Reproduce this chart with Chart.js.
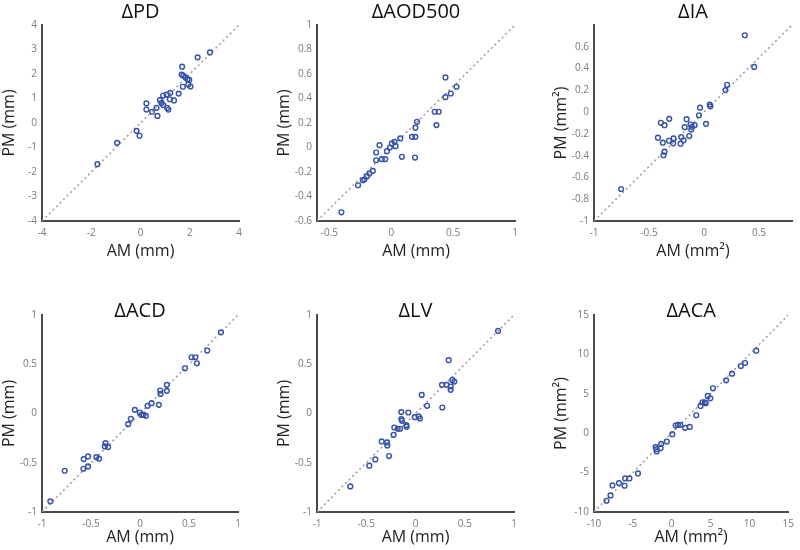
<!DOCTYPE html>
<html>
<head>
<meta charset="utf-8">
<script src="https://cdn.jsdelivr.net/npm/chart.js@4"></script>
<style>
  body { margin: 0; background: #fff; }
  #wrap { position: relative; width: 800px; height: 550px; }
  #wrap canvas { position: absolute; }
</style>
</head>
<body>
<div id="wrap">
  <canvas id="c1"></canvas>
  <canvas id="c2"></canvas>
  <canvas id="c3"></canvas>
  <canvas id="c4"></canvas>
  <canvas id="c5"></canvas>
  <canvas id="c6"></canvas>
</div>
<script>
// ΔPD
const pdAM = [-1.75, -0.95, -0.16, -0.04, 0.24, 0.24, 0.47, 0.65, 0.69, 0.79, 0.85, 0.92, 0.92, 1.06, 1.08, 1.13,
  1.19, 1.21, 1.36, 1.55, 1.72, 1.67, 1.69, 1.74, 1.83, 1.91, 1.98, 1.94, 2.03, 2.32, 2.82];
const pdPM = [-1.68, -0.81, -0.32, -0.52, 0.80, 0.55, 0.46, 0.62, 0.29, 0.93, 0.82, 0.73, 1.12, 1.16, 0.62, 0.55,
  0.97, 1.23, 0.92, 1.20, 1.48, 1.98, 2.30, 1.93, 1.86, 1.79, 1.76, 1.57, 1.49, 2.68, 2.88];

// ΔAOD500
const aodAM = [-0.403, -0.268, -0.230, -0.216, -0.195, -0.176, -0.149, -0.122, -0.122, -0.095, -0.076, -0.049, -0.035,
  -0.011, 0.005, 0.027, 0.035, 0.073, 0.086, 0.168, 0.195, 0.192, 0.195, 0.208, 0.351, 0.365, 0.384, 0.438, 0.438, 0.481, 0.527];
const aodPM = [-0.529, -0.308, -0.267, -0.259, -0.234, -0.213, -0.191, -0.041, -0.104, 0.019, -0.095, -0.095, -0.030,
  0.0, 0.033, 0.046, 0.011, 0.074, -0.076, 0.087, 0.087, -0.082, 0.161, 0.210, 0.292, 0.183, 0.292, 0.411, 0.572, 0.441, 0.496];

// ΔIA
const iaAM = [-0.754, -0.419, -0.392, -0.374, -0.368, -0.359, -0.359, -0.319, -0.316, -0.280, -0.277, -0.213, -0.207,
  -0.185, -0.176, -0.158, -0.134, -0.122, -0.116, -0.109, -0.085, -0.046, -0.036, 0.018, 0.052, 0.058, 0.195, 0.210, 0.371, 0.456];
const iaPM = [-0.706, -0.235, -0.098, -0.281, -0.396, -0.120, -0.363, -0.263, -0.062, -0.287, -0.241, -0.290, -0.229,
  -0.259, -0.138, -0.065, -0.220, -0.114, -0.159, -0.135, -0.120, -0.029, 0.041, -0.108, 0.069, 0.053, 0.202, 0.251, 0.706, 0.415];

// ΔACD
const acdAM = [-0.915, -0.768, -0.577, -0.574, -0.530, -0.530, -0.445, -0.417, -0.359, -0.352, -0.325, -0.121, -0.094,
  -0.053, -0.002, 0.015, 0.036, 0.060, 0.077, 0.118, 0.192, 0.206, 0.209, 0.274, 0.274, 0.458, 0.526, 0.564, 0.581, 0.686, 0.826];
const acdPM = [-0.892, -0.581, -0.561, -0.463, -0.537, -0.436, -0.443, -0.459, -0.334, -0.301, -0.341, -0.108, -0.054,
  0.037, 0.010, -0.014, -0.010, -0.024, 0.078, 0.105, 0.088, 0.233, 0.199, 0.291, 0.230, 0.459, 0.571, 0.571, 0.510, 0.639, 0.824];

// ΔLV
const lvAM = [-0.662, -0.469, -0.408, -0.343, -0.289, -0.286, -0.269, -0.222, -0.215, -0.181, -0.157, -0.144, -0.144,
  -0.137, -0.093, -0.090, -0.073, -0.008, 0.032, 0.046, 0.063, 0.117, 0.269, 0.272, 0.316, 0.337, 0.357, 0.357, 0.374, 0.394, 0.838];
const lvPM = [-0.740, -0.530, -0.466, -0.284, -0.294, -0.324, -0.432, -0.216, -0.142, -0.155, -0.155, 0.014, -0.057,
  -0.074, -0.118, -0.135, 0.010, -0.037, -0.030, -0.051, 0.189, 0.078, 0.291, 0.061, 0.291, 0.541, 0.274, 0.240, 0.341, 0.324, 0.838];

// ΔACA
const acaAM = [-8.39, -7.88, -7.63, -6.79, -6.07, -5.99, -5.44, -4.34, -2.07, -1.94, -1.94, -1.43, -1.35, -0.63, 0.08,
  0.51, 0.80, 1.10, 1.73, 2.32, 3.16, 3.71, 3.96, 4.26, 4.38, 4.64, 4.97, 5.31, 7.00, 7.76, 8.90, 9.44, 10.88];
const acaPM = [-8.57, -7.90, -6.63, -6.33, -6.67, -5.74, -5.74, -5.11, -1.77, -2.03, -2.32, -1.90, -1.35, -1.06, -0.13,
  0.97, 1.06, 1.06, 0.68, 0.80, 2.28, 3.46, 3.93, 3.93, 3.80, 4.73, 4.43, 5.70, 6.71, 7.56, 8.53, 8.91, 10.47];

// tick labels
const pdXTicks = [-4, -2, 0, 2, 4];
const pdYTicks = [-4, -3, -2, -1, 0, 1, 2, 3, 4];
const aodXTicks = [-0.5, 0, 0.5, 1];
const aodYTicks = [-0.6, -0.4, -0.2, 0, 0.2, 0.4, 0.6, 0.8, 1];
const iaXTicks = [-1, -0.5, 0, 0.5];
const iaYTicks = [-1, -0.8, -0.6, -0.4, -0.2, 0, 0.2, 0.4, 0.6];
const halfTicks = [-1, -0.5, 0, 0.5, 1];
const acaTicks = [-10, -5, 0, 5, 10, 15];

const dotColor = '#3452a8';
const font = "'Open Sans', 'DejaVu Sans', sans-serif";

function makePanel(id, o) {
  const cv = document.getElementById(id);
  cv.width = o.w;
  cv.height = o.h;
  cv.style.left = o.left + 'px';
  cv.style.top = o.top + 'px';

  const pts = o.am.map((x, i) => ({x: x, y: o.pm[i]}));

  const axis = (ticks, min, max, title, isX) => ({
    type: 'linear',
    min: min,
    max: max,
    afterBuildTicks: (s) => { s.ticks = ticks.map(v => ({value: v})); },
    afterFit: (s) => { if (isX) s.height = o.xh; else s.width = 42; },
    grid: {display: false, drawTicks: false},
    border: {display: true, color: '#4a4a4a', width: 2},
    ticks: {
      color: '#7a7a7a',
      font: {family: font, size: 10},
      padding: isX ? 6 : 5,
      maxRotation: 0,
      callback: (v) => String(+v.toFixed(2))
    },
    title: {
      display: true,
      text: title,
      color: '#222',
      font: {family: font, size: 16},
      padding: 0
    }
  });

  new Chart(cv, {
    type: 'scatter',
    data: {
      datasets: [
        {
          data: pts,
          pointStyle: 'circle',
          pointRadius: 2.4,
          pointBorderWidth: 1.4,
          pointBorderColor: dotColor,
          pointBackgroundColor: 'rgba(255,255,255,0)',
          showLine: false
        },
        {
          data: [{x: o.lineMin, y: o.lineMin}, {x: o.lineMax, y: o.lineMax}],
          showLine: true,
          borderColor: '#9a9a9a',
          borderWidth: 1.5,
          borderDash: [2, 3],
          pointRadius: 0
        }
      ]
    },
    options: {
      responsive: false,
      animation: false,
      layout: {padding: {left: 0, right: o.padR, top: 0, bottom: 0}},
      plugins: {
        legend: {display: false},
        tooltip: {enabled: false},
        title: {
          display: true,
          text: o.title,
          fullSize: false,
          color: '#111',
          font: {family: font, size: 20, weight: 'normal'},
          padding: o.titlePad
        }
      },
      scales: {
        x: axis(o.xTicks, o.xMin, o.xMax, o.xTitle, true),
        y: axis(o.yTicks, o.yMin, o.yMax, o.yTitle, false)
      }
    }
  });
}

const topPad = {top: 0, bottom: 1};
const botPad = {top: 9, bottom: -8};

makePanel('c1', {left: 0, top: 0, w: 259, h: 261, padR: 20, xh: 40, titlePad: topPad, title: 'ΔPD',
  am: pdAM, pm: pdPM, xTicks: pdXTicks, yTicks: pdYTicks, xMin: -4, xMax: 4, yMin: -4, yMax: 4,
  lineMin: -4, lineMax: 4, xTitle: 'AM (mm)', yTitle: 'PM (mm)'});
makePanel('c2', {left: 275, top: 0, w: 260, h: 261, padR: 20, xh: 40, titlePad: topPad, title: 'ΔAOD500',
  am: aodAM, pm: aodPM, xTicks: aodXTicks, yTicks: aodYTicks, xMin: -0.6, xMax: 1, yMin: -0.6, yMax: 1,
  lineMin: -0.6, lineMax: 1, xTitle: 'AM (mm)', yTitle: 'PM (mm)'});
makePanel('c3', {left: 552, top: 0, w: 248, h: 261, padR: 8, xh: 40, titlePad: topPad, title: 'ΔIA',
  am: iaAM, pm: iaPM, xTicks: iaXTicks, yTicks: iaYTicks, xMin: -1, xMax: 0.8, yMin: -1, yMax: 0.8,
  lineMin: -1, lineMax: 0.8, xTitle: 'AM (mm²)', yTitle: 'PM (mm²)'});
makePanel('c4', {left: 0, top: 290, w: 258, h: 257, padR: 20, xh: 35, titlePad: botPad, title: 'ΔACD',
  am: acdAM, pm: acdPM, xTicks: halfTicks, yTicks: halfTicks, xMin: -1, xMax: 1, yMin: -1, yMax: 1,
  lineMin: -1, lineMax: 1, xTitle: 'AM (mm)', yTitle: 'PM (mm)'});
makePanel('c5', {left: 275, top: 290, w: 259, h: 257, padR: 20, xh: 35, titlePad: botPad, title: 'ΔLV',
  am: lvAM, pm: lvPM, xTicks: halfTicks, yTicks: halfTicks, xMin: -1, xMax: 1, yMin: -1, yMax: 1,
  lineMin: -1, lineMax: 1, xTitle: 'AM (mm)', yTitle: 'PM (mm)'});
makePanel('c6', {left: 552, top: 290, w: 248, h: 257, padR: 8, xh: 35, titlePad: botPad, title: 'ΔACA',
  am: acaAM, pm: acaPM, xTicks: acaTicks, yTicks: acaTicks, xMin: -10, xMax: 15, yMin: -10, yMax: 15,
  lineMin: -10, lineMax: 15, xTitle: 'AM (mm²)', yTitle: 'PM (mm²)'});
</script>
</body>
</html>
